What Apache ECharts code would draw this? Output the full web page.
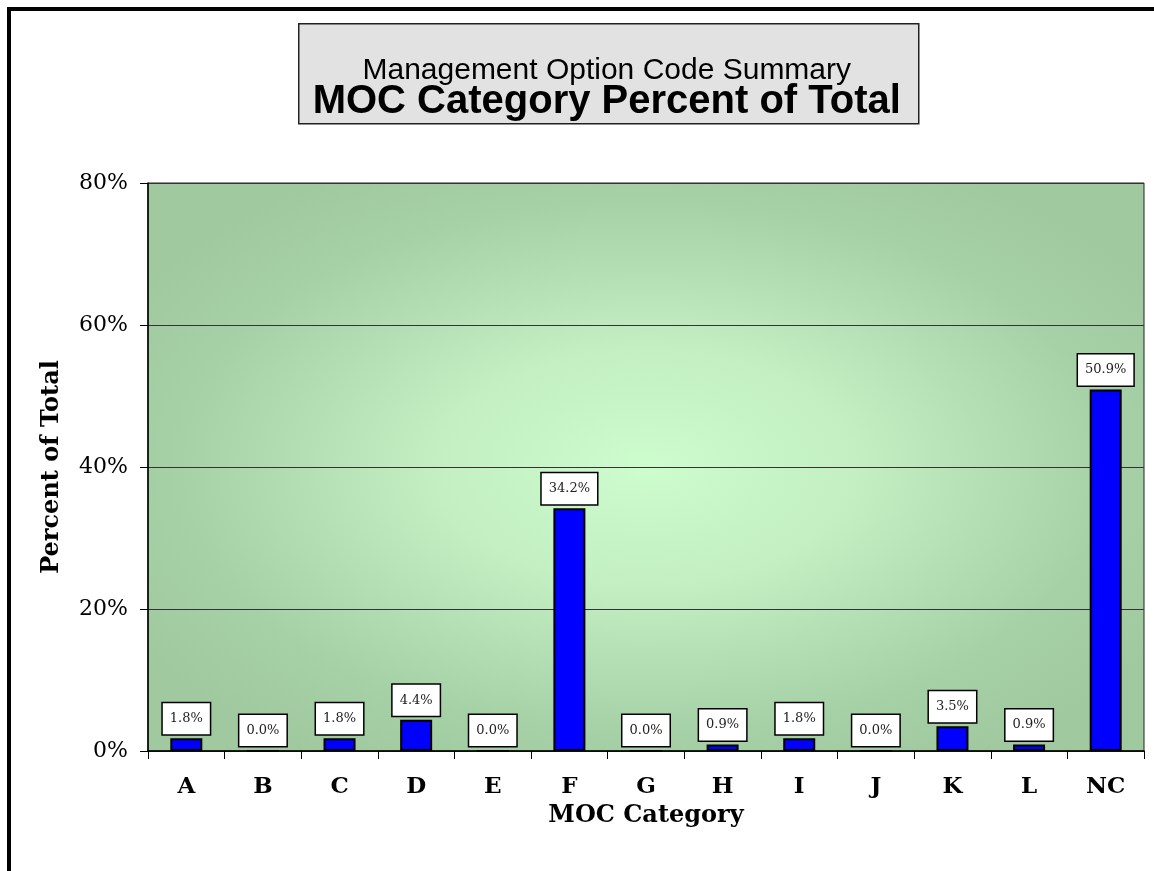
<!DOCTYPE html>
<html>
<head>
<meta charset="utf-8">
<script src="https://cdn.jsdelivr.net/npm/echarts@6/dist/echarts.min.js"></script>
<style>
  html, body { margin: 0; padding: 0; background: #fff; }
  #chart { width: 1154px; height: 871px; }
</style>
</head>
<body>
<div id="chart"></div>
<script>
// MOC categories and their share of the total (%)
var categories = ['A', 'B', 'C', 'D', 'E', 'F', 'G', 'H', 'I', 'J', 'K', 'L', 'NC'];
var percents = [1.8, 0.0, 1.8, 4.4, 0.0, 34.2, 0.0, 0.9, 1.8, 0.0, 3.5, 0.9, 50.9];
var yTicks = { min: 0, max: 80, interval: 20 };

var SERIF = '"DejaVu Serif", "Liberation Serif", serif';
var SANS = '"Liberation Sans", Arial, sans-serif';

// plot box in pixels
var plot = { left: 148, top: 183, right: 1144, bottom: 751 };
var plotW = plot.right - plot.left;
var plotH = plot.bottom - plot.top;

var chart = echarts.init(document.getElementById('chart'));

chart.setOption({
  animation: false,
  backgroundColor: '#fff',
  grid: {
    left: plot.left,
    top: plot.top,
    right: 1154 - plot.right,
    bottom: 871 - plot.bottom,
    show: true,
    borderColor: '#222',
    borderWidth: 1,
    backgroundColor: 'transparent'
  },
  graphic: [
    {
      // outer frame, only top and left edges visible
      type: 'rect',
      z: -20,
      shape: { x: 9, y: 9, width: 1400, height: 1100 },
      style: { fill: 'none', stroke: '#000', lineWidth: 4 }
    },
    {
      // plot background, elliptical "from centre" fill
      type: 'rect',
      z: -10,
      x: plot.left,
      y: plot.top,
      scaleX: plotW / plotH,
      shape: { x: 0, y: 0, width: plotH, height: plotH },
      style: {
        fill: new echarts.graphic.RadialGradient(0.5, 0.5, 0.6, [
          { offset: 0, color: '#cdfccd' },
          { offset: 0.35, color: '#c3efc3' },
          { offset: 0.78, color: '#a6d0a6' },
          { offset: 1, color: '#a0c9a0' }
        ])
      }
    },
    {
      type: 'group',
      left: 298,
      top: 23,
      children: [
        {
          type: 'rect',
          shape: { x: 0, y: 0, width: 620, height: 100 },
          style: { fill: '#e2e2e2', stroke: '#222', lineWidth: 1.5 }
        },
        {
          type: 'text',
          x: 308,
          y: 47,
          style: {
            text: 'Management Option Code Summary',
            font: '30px ' + SANS,
            fill: '#000',
            align: 'center',
            verticalAlign: 'middle'
          }
        },
        {
          type: 'text',
          x: 308,
          y: 78,
          style: {
            text: 'MOC Category Percent of Total',
            font: 'bold 40px ' + SANS,
            fill: '#000',
            align: 'center',
            verticalAlign: 'middle'
          }
        }
      ]
    }
  ],
  xAxis: {
    type: 'category',
    data: categories,
    name: 'MOC Category',
    nameLocation: 'middle',
    nameGap: 41,
    nameTextStyle: { fontFamily: SERIF, fontWeight: 'bold', fontSize: 24, color: '#000' },
    axisLine: { lineStyle: { color: '#000', width: 1.5 } },
    axisTick: { show: true, length: 8, lineStyle: { color: '#000' } },
    axisLabel: { fontFamily: SERIF, fontWeight: 'bold', fontSize: 23, color: '#000', margin: 25 }
  },
  yAxis: {
    type: 'value',
    min: yTicks.min,
    max: yTicks.max,
    interval: yTicks.interval,
    name: 'Percent of Total',
    nameLocation: 'middle',
    nameGap: 84,
    nameRotate: 90,
    nameTextStyle: { fontFamily: SERIF, fontWeight: 'bold', fontSize: 24, color: '#000' },
    axisLine: { show: true, lineStyle: { color: '#000', width: 1.5 } },
    axisTick: { show: true, length: 8, lineStyle: { color: '#000' } },
    axisLabel: {
      fontFamily: SERIF,
      fontSize: 22,
      color: '#000',
      margin: 20,
      formatter: '{value}%'
    },
    splitLine: { show: true, lineStyle: { color: '#333', width: 1 } }
  },
  series: [
    {
      type: 'bar',
      data: percents,
      barWidth: 32,
      itemStyle: { color: '#0000ff', borderColor: '#000', borderWidth: 2 },
      label: {
        show: true,
        position: 'top',
        distance: 4,
        fontFamily: SERIF,
        fontSize: 13,
        color: '#222',
        backgroundColor: '#fff',
        borderColor: '#000',
        borderWidth: 1.5,
        padding: [9, 7, 9, 7],
        formatter: function (p) { return p.value.toFixed(1) + '%'; }
      }
    }
  ]
});
</script>
</body>
</html>
